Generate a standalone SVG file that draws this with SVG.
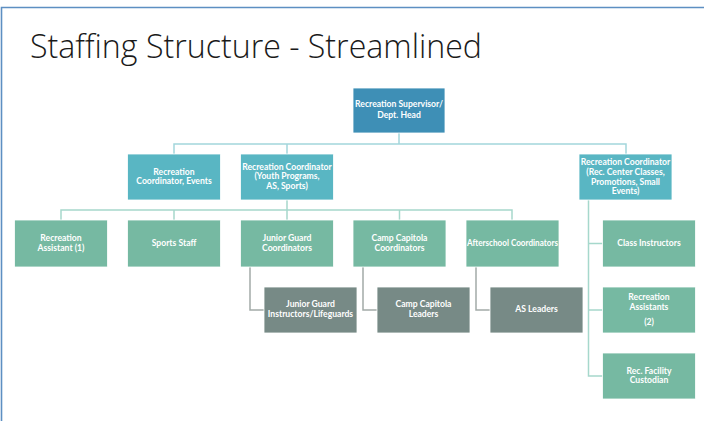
<svg xmlns="http://www.w3.org/2000/svg" width="704" height="421" viewBox="0 0 704 421">
<style>
.t{font-family:Lato,"Liberation Sans",sans-serif;font-weight:bold;font-size:8.6px;fill:#ffffff;text-anchor:middle}
.top{fill:#3e8fb6}
.l2{fill:#59b6c3}
.l3{fill:#76b9a2}
.l4{fill:#778a86}
.bx{stroke:#ffffff;stroke-width:0.8}
.c1{stroke:#a3d6dc;stroke-width:1.5;fill:none}
.c2{stroke:#a6d8cc;stroke-width:1.5;fill:none}
.c3{stroke:#a2aaa8;stroke-width:1.5;fill:none}
</style>
<rect width="704" height="421" fill="#ffffff"/>
<path d="M1.5 421 V7.5 H704" fill="none" stroke="#5d8fc2" stroke-width="1.6"/>
<text x="30" y="58" font-family="'Open Sans','Liberation Sans',sans-serif" font-weight="300" font-size="33" fill="#1a1a1a" textLength="452" lengthAdjust="spacingAndGlyphs">Staffing Structure - Streamlined</text>
<g id="connectors">
<path class="c1" d="M399 133 V144 M174 154 V144 H626 V154 M287 144 V154"/>
<path class="c2" d="M61 220 V210 H512 V220 M174 210 V220 M287 200 V220 M399.5 210 V220"/>
<path class="c2" d="M588.5 200 V376 H603 M588.5 243.5 H603 M588.5 310 H603"/>
<path class="c3" d="M250 267 V310 H264 M363 267 V310 H377 M476 267 V310 H490"/>
</g>
<g id="n-supervisor"><rect class="top bx" x="353" y="88" width="92" height="45"/><text class="t" x="399" y="107">Recreation Supervisor/</text><text class="t" x="399" y="118">Dept. Head</text></g>
<g id="n-rc-events"><rect class="l2 bx" x="127.5" y="154" width="93" height="46"/><text class="t" x="174" y="174.5">Recreation</text><text class="t" x="174" y="184">Coordinator, Events</text></g>
<g id="n-rc-youth"><rect class="l2 bx" x="240.5" y="154" width="93" height="46"/><text class="t" x="287" y="169.5">Recreation Coordinator</text><text class="t" x="287" y="179">(Youth Programs,</text><text class="t" x="287" y="188.5">AS, Sports)</text></g>
<g id="n-rc-center"><rect class="l2 bx" x="579" y="154" width="93" height="46"/><text class="t" x="625.5" y="165">Recreation Coordinator</text><text class="t" x="625.5" y="175">(Rec. Center Classes,</text><text class="t" x="625.5" y="184.5">Promotions, Small</text><text class="t" x="625.5" y="194">Events)</text></g>
<g id="n-rec-assistant"><rect class="l3 bx" x="14.5" y="220" width="93" height="47"/><text class="t" x="61" y="241">Recreation</text><text class="t" x="61" y="250.5">Assistant (1)</text></g>
<g id="n-sports"><rect class="l3 bx" x="127.5" y="220" width="93" height="47"/><text class="t" x="174" y="245.5">Sports Staff</text></g>
<g id="n-jg-coord"><rect class="l3 bx" x="240.5" y="220" width="93" height="47"/><text class="t" x="287" y="241">Junior Guard</text><text class="t" x="287" y="250.5">Coordinators</text></g>
<g id="n-cc-coord"><rect class="l3 bx" x="353" y="220" width="93" height="47"/><text class="t" x="399.5" y="241">Camp Capitola</text><text class="t" x="399.5" y="250.5">Coordinators</text></g>
<g id="n-as-coord"><rect class="l3 bx" x="466" y="220" width="93" height="47"/><text class="t" x="512.5" y="245.5" textLength="91" lengthAdjust="spacingAndGlyphs">Afterschool Coordinators</text></g>
<g id="n-class"><rect class="l3 bx" x="602.5" y="220" width="93" height="47"/><text class="t" x="649" y="245.5">Class Instructors</text></g>
<g id="n-jg-instr"><rect class="l4 bx" x="264" y="287" width="93" height="46"/><text class="t" x="310.5" y="307">Junior Guard</text><text class="t" x="310.5" y="317">Instructors/Lifeguards</text></g>
<g id="n-cc-leaders"><rect class="l4 bx" x="377" y="287" width="93" height="46"/><text class="t" x="423.5" y="307">Camp Capitola</text><text class="t" x="423.5" y="317">Leaders</text></g>
<g id="n-as-leaders"><rect class="l4 bx" x="490" y="287" width="93" height="46"/><text class="t" x="536.5" y="312">AS Leaders</text></g>
<g id="n-rec-assistants2"><rect class="l3 bx" x="602.5" y="287" width="93" height="46"/><text class="t" x="649" y="300">Recreation</text><text class="t" x="649" y="310">Assistants</text><text class="t" x="649" y="324.5">(2)</text></g>
<g id="n-custodian"><rect class="l3 bx" x="602.5" y="353" width="93" height="46"/><text class="t" x="649" y="373.5">Rec. Facility</text><text class="t" x="649" y="383">Custodian</text></g>
</svg>
